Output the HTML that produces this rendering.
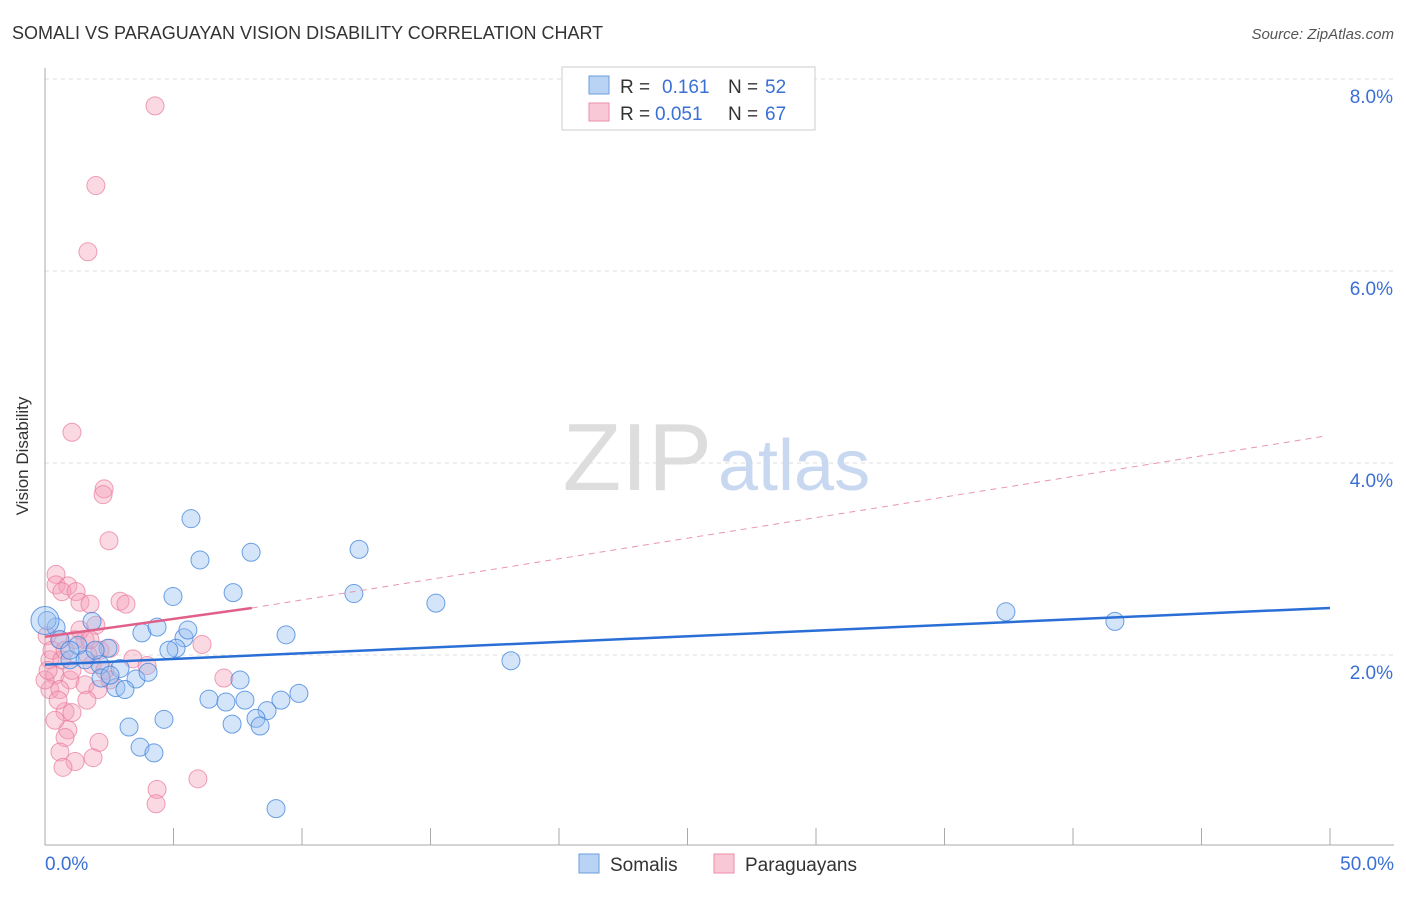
<!DOCTYPE html>
<html><head><meta charset="utf-8"><style>
body{margin:0;background:#fff;font-family:"Liberation Sans",sans-serif}
svg text{font-family:"Liberation Sans",sans-serif}
</style></head><body>
<svg id="c" width="1406" height="892">
<text x="12" y="39" font-size="18" fill="#333">SOMALI VS PARAGUAYAN VISION DISABILITY CORRELATION CHART</text>
<text x="1394" y="39" font-size="15" fill="#555" font-style="italic" text-anchor="end">Source: ZipAtlas.com</text>
<text x="28" y="456" font-size="17" fill="#333" transform="rotate(-90 28 456)" text-anchor="middle">Vision Disability</text>
<g id="grid"></g>
<text x="712" y="490" font-size="96" fill="#ddd" font-family="Liberation Serif" text-anchor="end">ZIP</text>
<text x="718" y="490" font-size="72" fill="#c8d8f0">atlas</text>
<g id="pts"></g>
<g id="lines"></g>
<g>
<rect x="562" y="67" width="253" height="63" fill="#fff" stroke="#ccc"/>
<rect x="589" y="76" width="20" height="18" fill="#b9d3f5" stroke="#6a9ee0"/>
<text y="93" font-size="19" fill="#333"><tspan x="620">R =</tspan><tspan x="662" fill="#3a6fd6">0.161</tspan><tspan x="728">N =</tspan><tspan x="765" fill="#3a6fd6">52</tspan></text>
<rect x="589" y="103" width="20" height="18" fill="#f9c8d6" stroke="#ee8eaa"/>
<text y="120" font-size="19" fill="#333"><tspan x="620">R =</tspan><tspan x="655" fill="#3a6fd6">0.051</tspan><tspan x="728">N =</tspan><tspan x="765" fill="#3a6fd6">67</tspan></text>
</g>
<g>
<rect x="579" y="854" width="20" height="19" fill="#b9d3f5" stroke="#6a9ee0"/>
<text x="610" y="871" font-size="19" fill="#333">Somalis</text>
<rect x="714" y="854" width="20" height="19" fill="#f9c8d6" stroke="#ee8eaa"/>
<text x="745" y="871" font-size="19" fill="#333">Paraguayans</text>
</g>
</svg>
<script>
const blueX=[5.68,6.03,8.02,12.22,4.98,7.32,12.02,15.21,37.39,41.63,18.13,9.38,3.77,4.36,5.41,5.56,5.10,4.82,1.83,0.43,0.08,0.97,1.28,2.14,2.45,2.92,3.54,4.01,2.76,3.11,2.18,6.38,7.04,7.78,7.59,9.18,9.88,8.64,8.21,8.37,7.28,4.63,3.27,3.70,4.24,8.99,0.58,1.56,1.95,0.0,2.53,0.97];
const blueY=[3.42,2.99,3.07,3.10,2.61,2.65,2.64,2.54,2.45,2.35,1.94,2.21,2.23,2.29,2.18,2.26,2.07,2.05,2.35,2.29,2.36,1.95,2.10,1.90,2.07,1.86,1.75,1.82,1.66,1.64,1.76,1.54,1.51,1.53,1.74,1.53,1.60,1.42,1.34,1.26,1.28,1.33,1.25,1.04,0.98,0.40,2.16,1.95,2.05,2.36,1.79,2.05];
const pinkX=[4.28,1.98,1.67,1.05,2.30,2.26,2.49,0.43,0.43,0.89,0.66,1.21,1.36,1.75,2.92,3.15,0.08,0.58,1.56,2.14,2.53,1.17,6.11,3.42,3.97,6.96,1.83,0.19,0.39,0.97,0.19,0.58,1.56,2.06,0.78,1.05,1.63,0.89,0.78,2.10,0.58,1.17,0.70,1.87,4.36,4.32,5.95,0.51,0.27,1.36,1.98,0.0,0.66,1.67,2.33,0.39,2.53,0.12,1.05,1.75,0.78];
const pinkY=[7.72,6.89,6.20,4.32,3.73,3.67,3.19,2.84,2.73,2.72,2.66,2.66,2.55,2.53,2.56,2.53,2.20,2.16,2.16,2.05,2.07,2.16,2.11,1.96,1.89,1.76,1.90,1.95,1.79,1.74,1.64,1.64,1.69,1.64,1.41,1.40,1.53,1.22,1.14,1.09,0.99,0.89,0.83,0.93,0.60,0.45,0.71,1.53,2.05,2.26,2.31,1.74,1.95,2.00,1.84,1.32,1.74,1.84,1.84,2.16,2.05];
const blueTrend=[1.90,2.49];
const pinkTrend=[2.19,2.49,8.05,4.28,49.8];
const yTicks=[2,4,6,8];
const xTickLabels=["0.0%","50.0%"];
const X=v=>45+v*25.7, Y=v=>847-v*96;
const NS="http://www.w3.org/2000/svg";
function mk(tag,attrs,parent){const e=document.createElementNS(NS,tag);for(const k in attrs)e.setAttribute(k,attrs[k]);parent.appendChild(e);return e;}
const grid=document.getElementById('grid');
for(const t of yTicks){
 const l=mk('line',{x1:45,x2:1394,y1:Y(t),y2:Y(t),stroke:'#ddd','stroke-dasharray':'4 4'},grid);
 
 
 const tx=mk('text',{x:1393,y:Y(t)+24,'font-size':19,fill:'#3a6fd6','text-anchor':'end'},grid);
 tx.textContent=t.toFixed(1)+'%';
 
 
}
const ax=mk('line',{x1:45,x2:45,y1:68,y2:845,stroke:'#aaa'},grid);


const bx=mk('line',{x1:45,x2:1394,y1:845,y2:845,stroke:'#aaa'},grid);


for(let i=0;i<=10;i++){
 const tk=mk('line',{x1:X(i*5),x2:X(i*5),y1:828,y2:845,stroke:'#aaa'},grid);
 
 
}
[[0,'start',45],[1,'end',1394]].forEach(([i,a,x])=>{
 const t=mk('text',{x:x,y:870,'font-size':19,fill:'#3a6fd6','text-anchor':a},grid);
 t.textContent=xTickLabels[i];
 
 
});
const pts=document.getElementById('pts');
pinkX.forEach((v,i)=>{
 const c=mk('circle',{cx:X(v),cy:Y(pinkY[i]),r:9,fill:'rgba(244,160,185,0.4)',stroke:'rgba(232,120,155,0.7)','stroke-width':1},pts);
 
 
});
blueX.forEach((v,i)=>{
 const c=mk('circle',{cx:X(v),cy:Y(blueY[i]),r:v===0?14:9,fill:'rgba(150,190,240,0.4)',stroke:'rgba(60,130,220,0.75)','stroke-width':1},pts);
 
 
});
const lines=document.getElementById('lines');
const bl=mk('line',{x1:X(0),y1:Y(blueTrend[0]),x2:X(50),y2:Y(blueTrend[1]),stroke:'#2a6fd6','stroke-width':2.5},lines);


const pl=mk('line',{x1:X(0),y1:Y(pinkTrend[0]),x2:X(pinkTrend[2]),y2:Y(pinkTrend[1]),stroke:'#e0608a','stroke-width':2.5},lines);


const pd=mk('line',{x1:X(pinkTrend[2]),y1:Y(pinkTrend[1]),x2:X(pinkTrend[4]),y2:Y(pinkTrend[3]),stroke:'#e895b0','stroke-width':1,'stroke-dasharray':'6 5'},lines);


</script>
</body></html>
